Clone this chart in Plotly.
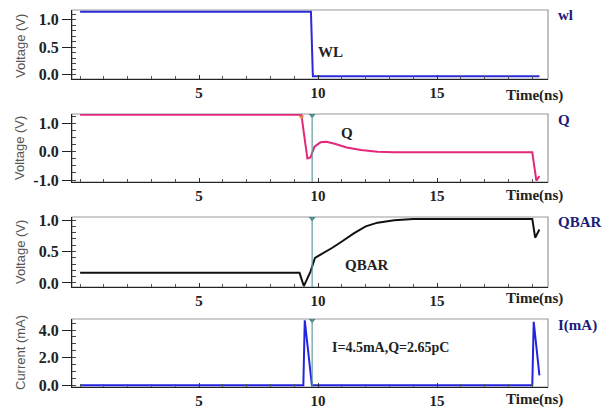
import plotly.graph_objects as go

# ---------------- data ----------------
t_wl = [0, 9.70, 9.78, 19.3]
v_wl = [1.15, 1.15, -0.03, -0.03]

t_q = [0, 9.30, 9.42, 9.55, 9.68, 9.85, 10.1, 10.35, 10.7, 11.2, 11.8, 12.5, 13.2, 19.0, 19.17, 19.3]
v_q = [1.30, 1.30, 0.55, -0.24, -0.20, 0.18, 0.33, 0.35, 0.28, 0.15, 0.06, 0.0, -0.02, -0.02, -1.02, -0.86]

t_qbar = [0, 9.22, 9.40, 9.55, 9.68, 9.87, 10.2, 10.6, 11.0, 11.5, 12.0, 12.5, 13.2, 14.0, 19.0, 19.12, 19.3]
v_qbar = [0.16, 0.16, -0.05, 0.06, 0.18, 0.40, 0.47, 0.56, 0.66, 0.79, 0.90, 0.96, 1.00, 1.02, 1.02, 0.72, 0.85]

t_i = [0, 9.38, 9.44, 9.74, 19.0, 19.06, 19.3]
v_i = [0, 0, 4.7, 0, 0, 4.6, 0.72]

cursor_t = 9.75
x_ticks = [5, 10, 15]
x_range = [-0.34, 19.66]

y_ranges = [[-0.08, 1.18], [-1.07, 1.33], [-0.065, 1.05], [-0.12, 4.8]]
y_ticks = [[0, 0.5, 1.0], [-1.0, 0.0, 1.0], [0, 0.5, 1.0], [0, 2.0, 4.0]]
y_minor = [0.1, 0.25, 0.1, 0.5]
y_titles = ["Voltage (V)", "Voltage (V)", "Voltage (V)", "Current (mA)"]
right_labels = ["wl", "Q", "QBAR", "I(mA)"]
inner_labels = ["WL", "Q", "QBAR", "I=4.5mA,Q=2.65pC"]

# ---------------- layout helpers ----------------
# the page body has an 8 px margin, so the figure is placed at (8, 8)
OFF = 8
W, H = 613 - OFF, 411 - OFF
def px(x):
    return (x - OFF) / W
def py(y):
    return 1 - (y - OFF) / H

panel_px = [(10, 79), (114, 182), (217, 287), (319, 387)]
x_dom = [px(72), px(548)]

SERIF = "Liberation Serif"
SANS = "Liberation Sans"

fig = go.Figure()

series = [
    (t_wl, v_wl, "#2b2bd6"),
    (t_q, v_q, "#e3287c"),
    (t_qbar, v_qbar, "#111111"),
    (t_i, v_i, "#2424e0"),
]

for k, (tx, vy, col) in enumerate(series):
    n = "" if k == 0 else str(k + 1)
    fig.add_trace(go.Scatter(x=tx, y=vy, mode="lines", xaxis="x" + n, yaxis="y" + n,
                             line=dict(color=col, width=2), showlegend=False, hoverinfo="skip"))

# cursor markers (panels 2-4)
for k in range(1, 4):
    n = str(k + 1)
    fig.add_shape(type="line", xref="x" + n, yref="y" + n + " domain", x0=cursor_t, x1=cursor_t,
                  y0=0, y1=1, line=dict(color="#5f9c9c", width=1.2))
    fig.add_trace(go.Scatter(x=[cursor_t], y=[y_ranges[k][1] - 0.02 * (y_ranges[k][1] - y_ranges[k][0])],
                             mode="markers", xaxis="x" + n, yaxis="y" + n,
                             marker=dict(symbol="triangle-down", size=6, color="#3f7f8a"),
                             showlegend=False, hoverinfo="skip"))

# small orange marker at Q drop
fig.add_trace(go.Scatter(x=[t_q[1]], y=[v_q[1] - 0.08], mode="markers", xaxis="x2", yaxis="y2",
                         marker=dict(symbol="triangle-down", size=5, color="#e08a3a"),
                         showlegend=False, hoverinfo="skip"))

layout = dict(width=W, height=H, margin=dict(l=0, r=0, t=0, b=0, pad=0), template="none",
              autosize=False, paper_bgcolor="white", plot_bgcolor="white", showlegend=False)

for k in range(4):
    n = "" if k == 0 else str(k + 1)
    top, bot = panel_px[k]
    layout["xaxis" + n] = dict(
        domain=x_dom, anchor="y" + n, range=x_range, tickvals=x_ticks, automargin=False,
        ticktext=[str(v) for v in x_ticks], ticks="inside", ticklen=4, tickcolor="#333",
        showline=True, linecolor="#222", linewidth=1.2, showgrid=False, zeroline=False,
        tickfont=dict(family=SERIF, size=15, color="#222", weight="bold"),
        minor=dict(dtick=1, ticks="inside", ticklen=3, tickcolor="#555"),
    )
    layout["yaxis" + n] = dict(
        domain=[py(bot), py(top)], anchor="x" + n, range=y_ranges[k], tickvals=y_ticks[k],
        automargin=False,
        ticktext=["%.1f" % v for v in y_ticks[k]], ticks="outside", ticklen=9, tickcolor="#222",
        showline=True, linecolor="#222", linewidth=1.2, showgrid=False, zeroline=False,
        tickfont=dict(family=SERIF, size=16, color="#222", weight="bold"),
        minor=dict(dtick=y_minor[k], ticks="inside", ticklen=4, tickcolor="#444"),
    )
    # gray frame top / right
    fig.add_shape(type="rect", xref="x" + n + " domain", yref="y" + n + " domain",
                  x0=0, x1=1, y0=0, y1=1, line=dict(color="#9a9a9a", width=1.2), layer="below")

fig.update_layout(**layout)

# annotations
ann = []
title_y = [46, 148, 252, 353]
time_y = [95, 196, 298, 399]
right_y = [15, 120, 222, 325]
inner_pos = [(330, 52), (347, 133), (367, 265), (390, 347)]
for k in range(4):
    ann.append(dict(text=y_titles[k], x=px(20), y=py(title_y[k]), xref="paper", yref="paper",
                    xanchor="center", yanchor="middle",
                    textangle=-90, showarrow=False, font=dict(family=SANS, size=13, color="#555")))
    ann.append(dict(text="Time(ns)", x=px(534), y=py(time_y[k]), xref="paper", yref="paper",
                    xanchor="center", yanchor="middle",
                    showarrow=False, font=dict(family=SERIF, size=15, color="#222", weight="bold")))
    ann.append(dict(text=right_labels[k], x=px(556), y=py(right_y[k]), xref="paper", yref="paper",
                    xanchor="left", yanchor="middle", showarrow=False,
                    font=dict(family=SERIF, size=15, color="#1c1c78", weight="bold")))
    ann.append(dict(text=inner_labels[k], x=px(inner_pos[k][0]), y=py(inner_pos[k][1]),
                    xref="paper", yref="paper", xanchor="center", yanchor="middle", showarrow=False,
                    font=dict(family=SERIF, size=15 if k < 3 else 14, color="#222", weight="bold")))
fig.update_layout(annotations=ann)

fig.write_html("out.html")
